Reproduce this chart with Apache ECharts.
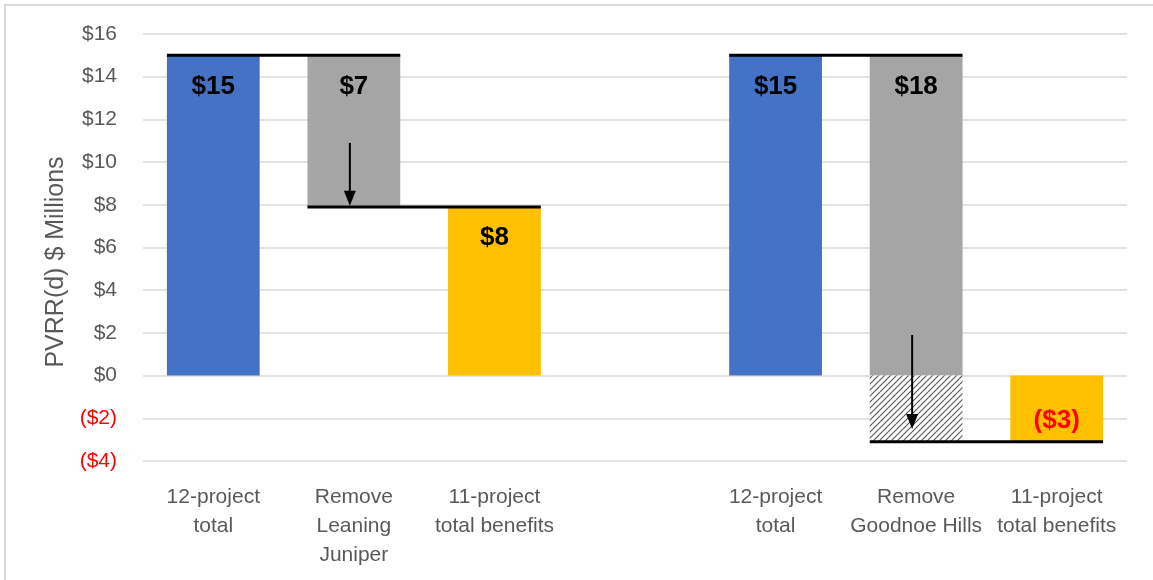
<!DOCTYPE html>
<html>
<head>
<meta charset="utf-8">
<script src="https://cdn.jsdelivr.net/npm/echarts@6/dist/echarts.min.js"></script>
<style>
html,body{margin:0;padding:0;background:#fff;}
#chart{width:1153px;height:580px;}
</style>
</head>
<body>
<div id="chart"></div>
<script>
// ---- data ----
const categories = ['12-project\ntotal', 'Remove\nLeaning\nJuniper', '11-project\ntotal benefits', '',
                    '12-project\ntotal', 'Remove\nGoodnoe Hills', '11-project\ntotal benefits'];
const startTotals = [15.0, 15.0];     // 12-project totals (left, right)
const removedValues = [7.1, 18.1];    // removed project value
const endTotals = [7.9, -3.1];        // 11-project total benefits
const yTicks = {min: -4, max: 16, interval: 2};
const arrowSpans = [[10.9, 7.95], [1.9, -2.5]]; // arrow start/end values on y

// ---- build series data ----
const groupIdx = [[0, 1, 2], [4, 5, 6]];
const baseData = new Array(7).fill(0);
const blueData = new Array(7).fill('-');
const greyData = new Array(7).fill('-');
const hatchData = new Array(7).fill('-');
const yellowData = new Array(7).fill('-');
const connectors = [];
const arrows = [];
groupIdx.forEach((g, i) => {
  const s = startTotals[i], r = removedValues[i], e = endTotals[i];
  blueData[g[0]] = s;
  if (e >= 0) { baseData[g[1]] = e; greyData[g[1]] = r; }
  else { greyData[g[1]] = s; hatchData[g[1]] = e; }
  yellowData[g[2]] = e < 0 ? {value: e, label: {position: 'inside', offset: [0, 12], color: '#FF0000'}} : e;
  connectors.push([g[0], g[1], s]);
  connectors.push([g[1], g[2], e]);
  arrows.push([g[1], arrowSpans[i][0], arrowSpans[i][1]]);
});
const greyLabels = {};
groupIdx.forEach((g, i) => { greyLabels[g[1]] = '$' + Math.round(removedValues[i]); });

function money(v) {
  return v < 0 ? '($' + Math.round(-v) + ')' : '$' + Math.round(v);
}

// hatch pattern
const pat = document.createElement('canvas');
pat.width = 6; pat.height = 6;
const pc = pat.getContext('2d');
pc.fillStyle = '#ffffff'; pc.fillRect(0, 0, 6, 6);
pc.strokeStyle = '#555555'; pc.lineWidth = 1.1;
pc.beginPath();
pc.moveTo(0, 6); pc.lineTo(6, 0);
pc.moveTo(-1, 1); pc.lineTo(1, -1);
pc.moveTo(5, 7); pc.lineTo(7, 5);
pc.stroke();

const FONT = 'Liberation Sans, Arial, sans-serif';
const BAR_W = 0.66;
const barLabel = {show: true, position: 'insideTop', distance: 18, fontFamily: FONT, fontSize: 26, fontWeight: 'bold', color: '#000', formatter: p => money(p.value)};

const chart = echarts.init(document.getElementById('chart'));
chart.setOption({
  animation: false,
  backgroundColor: '#fff',
  grid: {left: 143, right: 26, top: 34, bottom: 119, containLabel: false},
  graphic: [
    {type: 'line', shape: {x1: 4, y1: 5, x2: 1153, y2: 5}, style: {stroke: '#d9d9d9', lineWidth: 2}, silent: true},
    {type: 'line', shape: {x1: 5, y1: 4, x2: 5, y2: 580}, style: {stroke: '#d9d9d9', lineWidth: 2}, silent: true}
  ],
  xAxis: {
    type: 'category', data: categories,
    axisLine: {show: false}, axisTick: {show: false},
    axisLabel: {interval: 0, margin: 22, fontFamily: FONT, fontSize: 21, color: '#595959', lineHeight: 29}
  },
  yAxis: {
    type: 'value', min: yTicks.min, max: yTicks.max, interval: yTicks.interval,
    name: 'PVRR(d) $ Millions', nameLocation: 'middle', nameGap: 72,
    nameTextStyle: {fontFamily: FONT, fontSize: 25, color: '#595959', padding: [0, 29, 0, 0]},
    axisLine: {show: false}, axisTick: {show: false},
    splitLine: {lineStyle: {color: '#d9d9d9', width: 1.5}},
    axisLabel: {
      margin: 26, fontFamily: FONT, fontSize: 21, color: '#595959',
      formatter: v => v < 0 ? '{neg|' + money(v) + '}' : money(v),
      rich: {neg: {color: '#FF0000', fontFamily: FONT, fontSize: 21}}
    }
  },
  series: [
    {name: 'base', type: 'bar', stack: 'w', barWidth: (BAR_W * 100) + '%', data: baseData,
     itemStyle: {color: 'transparent'}, silent: true},
    {name: 'start', type: 'bar', stack: 'w', data: blueData, itemStyle: {color: '#4472C4'}, label: barLabel},
    {name: 'removed', type: 'bar', stack: 'w', data: greyData, itemStyle: {color: '#A5A5A5'},
     label: Object.assign({}, barLabel, {formatter: p => greyLabels[p.dataIndex]})},
    {name: 'removedBelow', type: 'bar', stack: 'w', data: hatchData,
     itemStyle: {color: {image: pat, repeat: 'repeat'}}},
    {name: 'end', type: 'bar', stack: 'w', data: yellowData, itemStyle: {color: '#FFC000'}, label: barLabel},
    {name: 'connectors', type: 'custom', z: 10, data: connectors, encode: {x: 0, y: 2},
     renderItem: (params, api) => {
       const v = api.value(2);
       const p0 = api.coord([api.value(0), v]);
       const p1 = api.coord([api.value(1), v]);
       const bw = api.size([1, 0])[0] * BAR_W;
       return {type: 'line', shape: {x1: p0[0] - bw / 2, y1: p0[1], x2: p1[0] + bw / 2, y2: p1[1]},
               style: {stroke: '#000', lineWidth: 3}};
     }},
    {name: 'arrows', type: 'custom', z: 11, data: arrows, encode: {x: 0, y: [1, 2]},
     renderItem: (params, api) => {
       const a = api.coord([api.value(0), api.value(1)]);
       const b = api.coord([api.value(0), api.value(2)]);
       const x = a[0] - 4;
       const hh = 15, hw = 6;
       return {type: 'group', children: [
         {type: 'line', shape: {x1: x, y1: a[1], x2: x, y2: b[1] - hh + 2}, style: {stroke: '#000', lineWidth: 2}},
         {type: 'polygon', shape: {points: [[x - hw, b[1] - hh], [x + hw, b[1] - hh], [x, b[1]]]}, style: {fill: '#000'}}
       ]};
     }}
  ]
});
</script>
</body>
</html>
